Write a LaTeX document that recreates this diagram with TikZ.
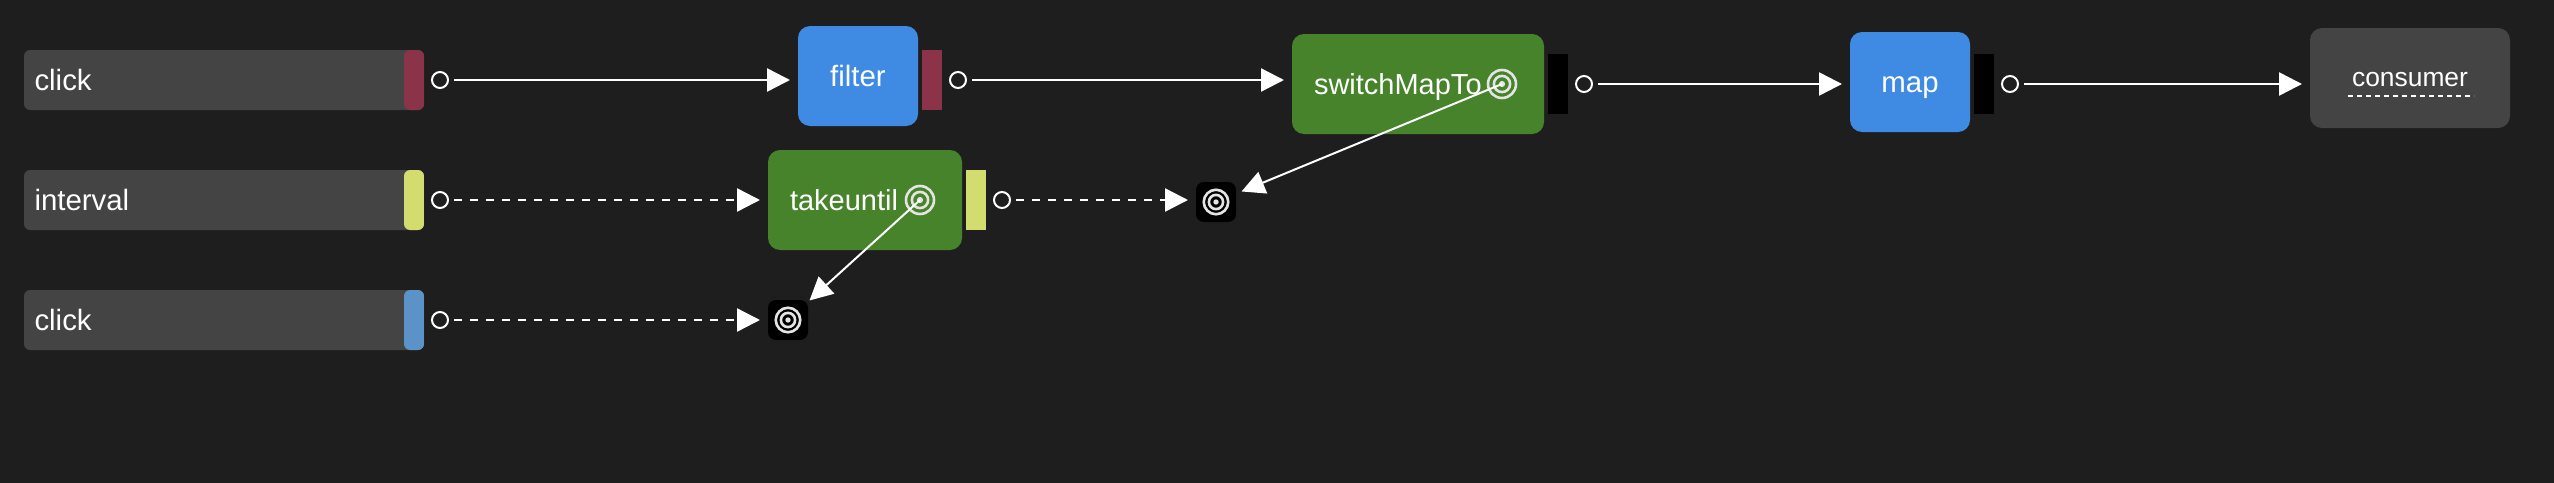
\documentclass[tikz,border=0pt]{standalone}
\usepackage{fontspec}
\setmainfont{Liberation Sans}
\usetikzlibrary{positioning}
\usetikzlibrary{arrows.meta}
\definecolor{mybackground}{HTML}{1E1E1E}
\definecolor{mygrey}{HTML}{444444}
\definecolor{myred}{HTML}{8A3349}
\definecolor{myyellow}{HTML}{D3DC6E}
\definecolor{mysteel}{HTML}{5B92C7}
\definecolor{myblue}{HTML}{3F8AE2}
\definecolor{mygreen}{HTML}{47832B}
\definecolor{myringcolor}{HTML}{E4E4E4}
\begin{document}
\begin{tikzpicture}
			[
				x = 0.5pt, y = -0.5pt,
				mytext/.style = {text = white, font = \fontsize{14.7}{16}\selectfont, text height = 12pt, text depth = 2pt, inner sep = 0pt, outer sep = 0pt},
				mysource/.style = {mytext, fill = mygrey, rounded corners = 3pt, minimum height = 30pt, align = left, inner xsep = 5.25pt, text width = 189.5pt, path picture = {\fill [#1] ([xshift = -10pt]path picture bounding box.south east) rectangle (path picture bounding box.north east);}},
				myblueblock/.style = {mytext, fill = myblue, rounded corners = 6pt, minimum height = 50pt, minimum width = #1},
				mygreenblock/.style = {mytext, font = \fontsize{14.5}{16}\selectfont, fill = mygreen, rounded corners = 6pt, minimum height = 50pt, align = left, inner xsep = 11pt, text width = #1 - 22pt},
				myconsumer/.style = {mytext, fill = mygrey, rounded corners = 6pt, minimum height = 50pt, minimum width = 100pt, font = \fontsize{13.2}{16}\selectfont, text height = 10pt, text depth = 2pt},
				mystrip/.style = {fill = #1, inner sep = 0pt, outer sep = 0pt, minimum width = 10pt, minimum height = 30pt},
				myport/.style = {circle, draw = white, line width = 1pt, inner sep = 0pt, outer sep = 0pt, minimum size = 8pt},
				mytarget/.style = {fill = black, rounded corners = 4pt, inner sep = 0pt, outer sep = 0pt, minimum size = 20pt},
				myring/.style = {circle, draw = myringcolor, line width = 1.3pt, inner sep = 0pt, outer sep = 0pt, minimum size = #1, path picture = {\draw [myringcolor, line width = 1.3pt] (path picture bounding box.center) circle (#1 * 0.29); \fill [myringcolor] (path picture bounding box.center) circle (#1 * 0.11);}},
				myarrow/.style = {white, line width = 1.2pt, shorten < = 3pt, shorten > = 4pt, -{Triangle[length = 11.5pt, width = 11.5pt]}},
				mylink/.style = {white, line width = 1pt, -{Triangle[length = 11.5pt, width = 11.5pt]}}
			]
			%
			\useasboundingbox (0,0) rectangle (2554,482);
			\fill [mybackground] (-10,-10) rectangle (2564,492);
			%
			\node (clickone) [mysource = myred] at (224,80) {click};
			\node (clickoneport) [myport, right = 4pt of clickone.east] {};
			%
			\node (interval) [mysource = myyellow] at (224,200) {interval};
			\node (intervalport) [myport, right = 4pt of interval.east] {};
			%
			\node (clicktwo) [mysource = mysteel] at (224,320) {click};
			\node (clicktwoport) [myport, right = 4pt of clicktwo.east] {};
			%
			\node (filter) [myblueblock = 60pt] at (858,76) {filter};
			\node (filterstrip) [mystrip = myred, right = 2pt of filter.east, yshift = -2pt] {};
			\node (filterport) [myport, right = 4pt of filterstrip.east] {};
			%
			\node (takeuntil) [mygreenblock = 97pt] at (865,200) {takeuntil};
			\node (takeuntilring) [myring = 14pt] at ([xshift = 27.5pt]takeuntil.center) {};
			\node (takeuntilstrip) [mystrip = myyellow, right = 2pt of takeuntil.east] {};
			\node (takeuntilport) [myport, right = 4pt of takeuntilstrip.east] {};
			%
			\node (switchmap) [mygreenblock = 126pt] at (1418,84) {switchMapTo};
			\node (switchmapring) [myring = 14pt] at ([xshift = 42pt]switchmap.center) {};
			\node (switchmapstrip) [mystrip = black, right = 2pt of switchmap.east] {};
			\node (switchmapport) [myport, right = 4pt of switchmapstrip.east] {};
			%
			\node (map) [myblueblock = 60pt] at (1910,82) {map};
			\node (mapstrip) [mystrip = black, right = 2pt of map.east, yshift = -1pt] {};
			\node (mapport) [myport, right = 4pt of mapstrip.east] {};
			%
			\node (consumer) [myconsumer] at (2410,78) {consumer};
			\draw [white, line width = 1pt, dash pattern = on 2.5pt off 2pt] ([xshift = -31pt, yshift = -9pt]consumer.center) -- ([xshift = 32pt, yshift = -9pt]consumer.center);
			%
			\node (takeuntiltarget) [mytarget] at (788,320) {};
			\node (takeuntiltargetring) [myring = 12.25pt] at (takeuntiltarget.center) {};
			%
			\node (switchmaptarget) [mytarget] at (1216,202) {};
			\node (switchmaptargetring) [myring = 12.25pt] at (switchmaptarget.center) {};
			%
			\draw [myarrow] (clickoneport) -- (clickoneport -| filter.west);
			\draw [myarrow] (filterport) -- (filterport -| switchmap.west);
			\draw [myarrow] (switchmapport) -- (switchmapport -| map.west);
			\draw [myarrow] (mapport) -- (mapport -| consumer.west);
			%
			\draw [myarrow, dash pattern = on 4pt off 4pt] (intervalport) -- (intervalport -| takeuntil.west);
			\draw [myarrow, dash pattern = on 4pt off 4pt] (clicktwoport) -- (clicktwoport -| takeuntiltarget.west);
			\draw [myarrow, dash pattern = on 4pt off 4pt] (takeuntilport) -- (takeuntilport -| switchmaptarget.west);
			%
			\draw [mylink, shorten > = 3pt] (switchmapring.center) -- (switchmaptarget);
			\draw [mylink, shorten > = 1pt] (takeuntilring.center) -- (takeuntiltarget);
			%
		\end{tikzpicture}
\end{document}
